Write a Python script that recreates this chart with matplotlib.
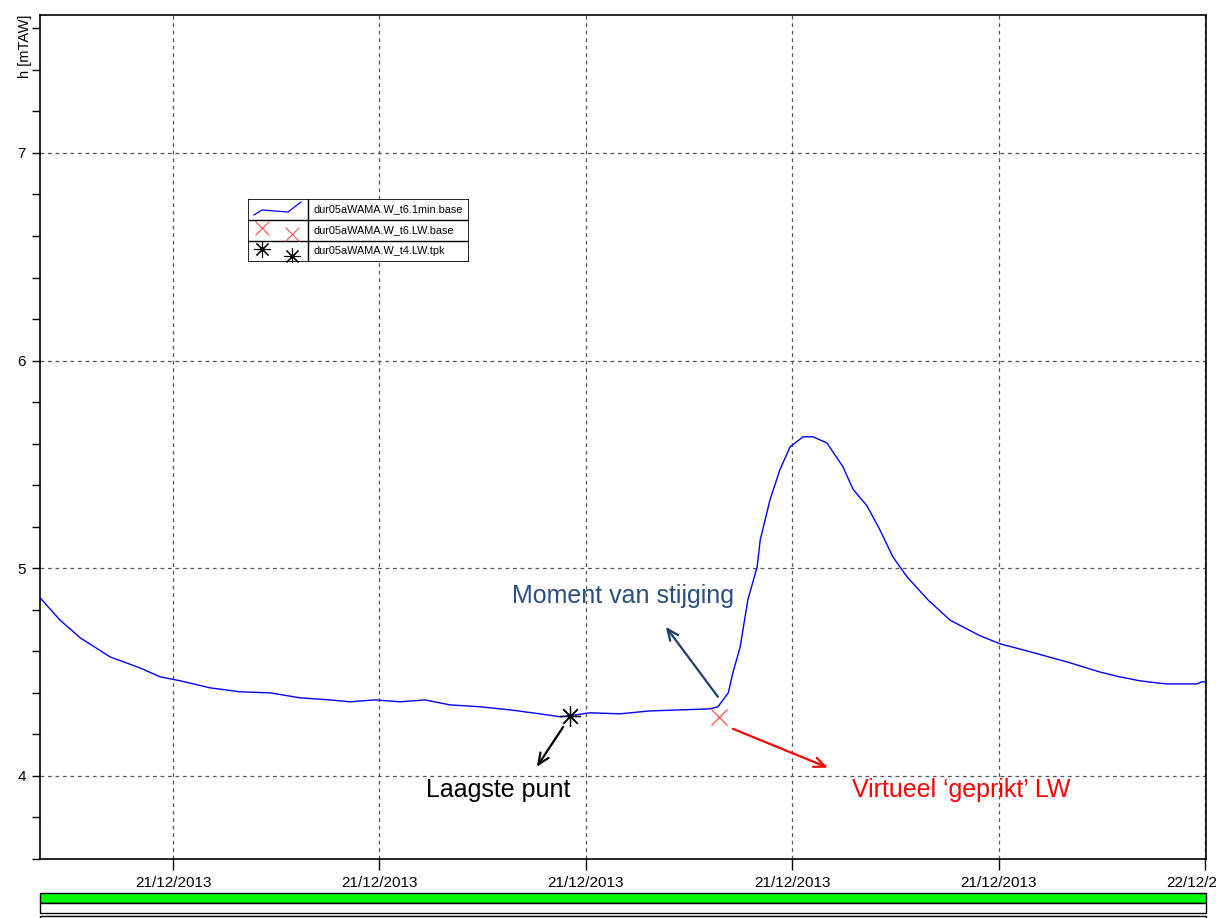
import numpy as np
import matplotlib
matplotlib.use("Agg")
import matplotlib.pyplot as plt
from matplotlib.patches import Rectangle
from matplotlib.ticker import MultipleLocator

plt.rcParams['font.family'] = ['Liberation Sans', 'DejaVu Sans']

# water level dur05aWAMA (hours since 21/12/2013 00:00)
t_hours = [1.42, 1.81, 2.20, 2.78, 3.36, 3.75, 4.14, 4.72, 5.30, 5.88, 6.46, 7.04, 7.43,
           7.91, 8.40, 8.88, 9.37, 9.95, 10.53, 11.11, 11.50, 11.69, 12.08, 12.66, 13.24,
           13.83, 14.41, 14.56, 14.76, 14.85, 14.99, 15.14, 15.32, 15.38, 15.57, 15.76,
           15.96, 16.21, 16.40, 16.67, 16.98, 17.18, 17.45, 17.70, 17.95, 18.22, 18.63,
           19.06, 19.64, 20.03, 20.61, 21.38, 21.97, 22.35, 22.74, 23.07, 23.26, 23.84,
           23.94, 24.02]
h_mtaw = [4.858, 4.750, 4.665, 4.573, 4.520, 4.477, 4.458, 4.424, 4.405, 4.400, 4.376,
          4.366, 4.357, 4.366, 4.357, 4.366, 4.342, 4.333, 4.318, 4.299, 4.285, 4.290,
          4.304, 4.299, 4.313, 4.318, 4.323, 4.333, 4.400, 4.497, 4.620, 4.848, 5.007,
          5.137, 5.330, 5.474, 5.585, 5.633, 5.633, 5.604, 5.490, 5.380, 5.300, 5.185,
          5.055, 4.960, 4.848, 4.750, 4.675, 4.636, 4.598, 4.545, 4.500, 4.477, 4.458,
          4.448, 4.443, 4.443, 4.453, 4.453]

lw_base_t = [14.58]      # dur05aWAMA.W_t6.LW.base
lw_base_h = [4.285]
lw_tpk_t = [11.69]       # dur05aWAMA.W_t4.LW.tpk
lw_tpk_h = [4.29]

xtick_hours = [4, 8, 12, 16, 20, 24]
xtick_labels = ["21/12/2013"] * 5 + ["22/12/2013"]

fig = plt.figure(figsize=(12.16, 9.18), dpi=100)
ax = fig.add_axes([40/1216, 59/918, 1166/1216, 844/918])

ax.plot(t_hours, h_mtaw, color="#0000FF", lw=1.0, zorder=3)
ax.plot(lw_base_t, lw_base_h, ls="none", marker="x", ms=12, mew=0.9, color="#FF5050", zorder=4)
ax.plot(lw_tpk_t, lw_tpk_h, ls="none", marker=(8, 2, 0), ms=15, mew=0.9, color="black", zorder=4)
ax.plot(lw_tpk_t, lw_tpk_h, ls="none", marker="o", ms=2.5, color="black", zorder=4)

ax.set_xlim(1.42, 24.02)
ax.set_ylim(3.60, 7.664)
ax.set_xticks(xtick_hours)
ax.set_xticklabels(xtick_labels, fontsize=11)
ax.set_yticks([4, 5, 6, 7])
ax.set_yticklabels(["4", "5", "6", "7"], fontsize=11)
ax.yaxis.set_minor_locator(MultipleLocator(0.2))
ax.tick_params(axis="x", length=8, width=1, pad=4)
ax.tick_params(axis="y", which="both", length=6, width=1, pad=4)
ax.grid(True, which="major", color="#555555", ls=(0, (3, 3)), lw=0.9)
for s in ax.spines.values():
    s.set_linewidth(1.2)
ax.set_ylabel("h [mTAW]", fontsize=10.5)
ax.yaxis.set_label_coords(-0.019, 1.0, transform=ax.transAxes)
ax.yaxis.label.set_va("top")
ax.yaxis.label.set_ha("right")

# annotations
arr = "->,head_length=0.8,head_width=0.35"
ax.annotate("", xy=(13.55, 4.718), xytext=(14.56, 4.381),
            arrowprops=dict(arrowstyle=arr, color="#1F3F6A", lw=1.6, shrinkA=0, shrinkB=0))
ax.text(12.72, 4.867, "Moment van stijging", color="#2A4F80", fontsize=18, va="center", ha="center")
ax.annotate("", xy=(11.05, 4.044), xytext=(11.56, 4.236),
            arrowprops=dict(arrowstyle=arr, color="black", lw=1.6, shrinkA=0, shrinkB=0))
ax.text(10.30, 3.933, "Laagste punt", color="black", fontsize=18, va="center", ha="center")
ax.annotate("", xy=(16.69, 4.04), xytext=(14.85, 4.227),
            arrowprops=dict(arrowstyle=arr, color="#FF0000", lw=1.6, shrinkA=0, shrinkB=0))
ax.text(19.27, 3.933, "Virtueel \u2018geprikt\u2019 LW", color="#FF0000", fontsize=18, va="center", ha="center")

# legend drawn as a small table
lg = fig.add_axes([248/1216, (918-262)/918, 221/1216, 63/918])
lg.set_xlim(0, 221)
lg.set_ylim(63, 0)
lg.axis("off")
lg.add_patch(Rectangle((0, 0), 221, 63, fc="white", lw=1.2, ec="black"))
for yy in (21, 42):
    lg.plot([0, 221], [yy, yy], color="black", lw=1)
lg.plot([60, 60], [0, 63], color="black", lw=1)
lg.plot([6, 14, 40, 53], [16, 11, 13, 3], color="#0000FF", lw=0.9)
lg.plot([14, 44], [28.5, 35], ls="none", marker="x", ms=10, mew=0.8, color="#FF5050")
lg.plot([14, 44], [50, 57], ls="none", marker=(8, 2, 0), ms=12, mew=0.8, color="black")
lg.plot([14, 44], [50, 57], ls="none", marker="o", ms=2, color="black")
names = ["dur05aWAMA.W_t6.1min.base", "dur05aWAMA.W_t6.LW.base", "dur05aWAMA.W_t4.LW.tpk"]
for i, nm in enumerate(names):
    lg.text(66, 10.5 + 21 * i, nm, fontsize=7.8, va="center", ha="left")

# status bars below the plot
fig.patches.append(Rectangle((40/1216, (918-903)/918), 1166/1216, 10/918, transform=fig.transFigure,
                             fc="#00FF00", ec="black", lw=1))
fig.patches.append(Rectangle((40/1216, (918-913)/918), 1166/1216, 10/918, transform=fig.transFigure,
                             fc="white", ec="black", lw=1))
fig.patches.append(Rectangle((40/1216, -0.01), 1166/1216, (918-916)/918 + 0.01, transform=fig.transFigure,
                             fc="white", ec="black", lw=1))

fig.savefig("out.png", dpi=100)
